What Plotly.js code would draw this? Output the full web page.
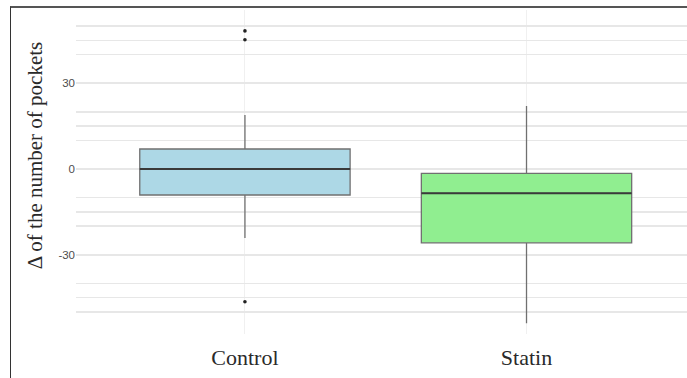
<!DOCTYPE html>
<html>
<head>
<meta charset="utf-8">
<script src="https://cdn.plot.ly/plotly-3.0.1.min.js"></script>
<style>
  html, body { margin: 0; padding: 0; background: #fff; overflow: hidden; }
  #chart { position: absolute; left: 0; top: 0; width: 687px; height: 378px; }
  #frame {
    position: absolute; left: 10px; top: 6px; width: 700px; height: 400px;
    border-top: 2px solid #555; border-left: 1.5px solid #333;
    pointer-events: none;
  }
</style>
</head>
<body>
<div id="chart"></div>
<div id="frame"></div>
<script>
// Groups and their box statistics (change in number of pockets)
const categories = ['Control', 'Statin'];
const q1Values      = [-9.1, -25.8];
const medianValues  = [0.0, -8.5];
const q3Values      = [7.0, -1.5];
const lowerWhisker  = [-24.1, -53.9];
const upperWhisker  = [18.9, 22.0];
const fillColors    = ['#add8e6', '#90ee90'];

// Outlying observations
const outlierGroup  = ['Control', 'Control', 'Control'];
const outlierValues = [48.3, 45.2, -46.4];

// Horizontal grid values and the ones that carry a label
const gridValues    = [50, 45, 40, 30, 20, 15, 10, 0, -10, -15, -20, -30, -40, -45, -50];
const labelledTicks = [30, 0, -30];

const yTitle = 'Δ of the number of pockets';

const boxWidth = 0.747;
const traces = [];

categories.forEach((name, i) => {
  traces.push({
    type: 'box',
    name: name,
    x: [i],
    q1: [q1Values[i]],
    median: [medianValues[i]],
    q3: [q3Values[i]],
    lowerfence: [lowerWhisker[i]],
    upperfence: [upperWhisker[i]],
    width: boxWidth,
    whiskerwidth: 0,
    boxpoints: false,
    fillcolor: fillColors[i],
    line: { color: '#707070', width: 1.3 },
    hoverinfo: 'skip',
    showlegend: false
  });
});

// Thicker median bars drawn over each box
categories.forEach((name, i) => {
  traces.push({
    type: 'scatter',
    mode: 'lines',
    x: [i - boxWidth / 2, i + boxWidth / 2],
    y: [medianValues[i], medianValues[i]],
    line: { color: '#3a3a3a', width: 2 },
    hoverinfo: 'skip',
    showlegend: false
  });
});

traces.push({
  type: 'scatter',
  mode: 'markers',
  x: outlierGroup.map(g => categories.indexOf(g)),
  y: outlierValues,
  marker: { color: '#222', size: 3.6 },
  hoverinfo: 'skip',
  showlegend: false
});

const layout = {
  width: 687,
  height: 378,
  margin: { l: 76, r: 0, t: 10, b: 44 },
  paper_bgcolor: '#ffffff',
  plot_bgcolor: '#ffffff',
  showlegend: false,
  xaxis: {
    range: [-0.6, 1.57],
    tickmode: 'array',
    tickvals: categories.map((_, i) => i),
    ticktext: categories,
    showgrid: true,
    gridcolor: '#f0f0f0',
    gridwidth: 1,
    zeroline: false,
    showline: false,
    ticks: '',
    ticklabelstandoff: 8,
    tickfont: { family: 'Liberation Serif', size: 22, color: '#2a2a2a' }
  },
  yaxis: {
    range: [-57.7, 55.6],
    tickmode: 'array',
    tickvals: gridValues,
    ticktext: gridValues.map(v => labelledTicks.includes(v) ? String(v) : ''),
    showgrid: true,
    gridcolor: '#e7e7e7',
    gridwidth: 1.6,
    zeroline: false,
    showline: false,
    ticks: '',
    tickfont: { family: 'Liberation Sans', size: 11.5, color: '#4d4d4d' }
  },
  annotations: [{
    text: yTitle,
    xref: 'paper', yref: 'paper',
    x: -0.068, y: 0.553,
    xanchor: 'center', yanchor: 'middle',
    textangle: -90,
    showarrow: false,
    font: { family: 'Liberation Serif', size: 21, color: '#2a2a2a' }
  }]
};

Plotly.newPlot('chart', traces, layout, { staticPlot: true, displayModeBar: false });
</script>
</body>
</html>
